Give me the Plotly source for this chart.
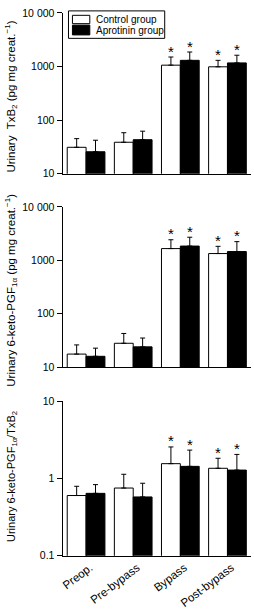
import plotly.graph_objects as go
import math

categories = ["Preop.", "Pre-bypass", "Bypass", "Post-bypass"]
series_names = ["Control group", "Aprotinin group"]

# Panel 1: Urinary TxB2
txb2_control = [31, 38.5, 1057, 985]
txb2_control_err = [45, 58, 1500, 1300]
txb2_aprot = [25.6, 43, 1300, 1165]
txb2_aprot_err = [42, 62, 1860, 1620]

# Panel 2: Urinary 6-keto-PGF1a
pgf_control = [17.5, 27.9, 1660, 1340]
pgf_control_err = [26, 42.6, 2430, 1830]
pgf_aprot = [15.9, 23.9, 1850, 1460]
pgf_aprot_err = [22.6, 35, 2710, 2240]

# Panel 3: ratio
ratio_control = [0.60, 0.75, 1.55, 1.35]
ratio_control_err = [0.79, 1.13, 2.55, 1.82]
ratio_aprot = [0.64, 0.575, 1.43, 1.28]
ratio_aprot_err = [0.83, 0.865, 2.32, 2.04]

significant = [False, False, True, True]

FONT = "Liberation Sans, Arial, sans-serif"
W, H = 254, 610

panels = [
    (txb2_control, txb2_control_err, txb2_aprot, txb2_aprot_err),
    (pgf_control, pgf_control_err, pgf_aprot, pgf_aprot_err),
    (ratio_control, ratio_control_err, ratio_aprot, ratio_aprot_err),
]

fig = go.Figure()
for i, (c, ce, a, ae) in enumerate(panels):
    n = "" if i == 0 else str(i + 1)
    fig.add_trace(go.Bar(
        x=categories, y=c, name=series_names[0], showlegend=False,
        marker=dict(color="white", line=dict(color="black", width=1)),
        error_y=dict(type="data", symmetric=False,
                     array=[e - v for e, v in zip(ce, c)],
                     arrayminus=[0] * len(c), color="black", thickness=1, width=2.5),
        xaxis="x" + n, yaxis="y" + n, offsetgroup="c",
    ))
    fig.add_trace(go.Bar(
        x=categories, y=a, name=series_names[1], showlegend=False,
        marker=dict(color="black", line=dict(color="black", width=1)),
        error_y=dict(type="data", symmetric=False,
                     array=[e - v for e, v in zip(ae, a)],
                     arrayminus=[0] * len(a), color="black", thickness=1, width=2.5),
        xaxis="x" + n, yaxis="y" + n, offsetgroup="a",
    ))
    for j, s in enumerate(significant):
        if s:
            for top, shift in ((ce[j], -9.5), (ae[j], 9.5)):
                fig.add_annotation(
                    x=categories[j], y=math.log10(top), xref="x" + n, yref="y" + n,
                    text="*", showarrow=False, xshift=shift, yshift=6,
                    yanchor="middle", font=dict(size=15, family=FONT, color="black"),
                )

xdom = [61 / W, 251 / W]
ydoms = [
    [1 - 171 / H, 1 - 7 / H],
    [1 - 368.3 / H, 1 - 205 / H],
    [1 - 560.7 / H, 1 - 403 / H],
]

axis_common = dict(showline=True, linecolor="black", linewidth=1, showgrid=False,
                   zeroline=False, mirror=False)

layout = dict(
    width=W, height=H, margin=dict(l=0, r=0, t=0, b=0),
    paper_bgcolor="white", plot_bgcolor="white",
    barmode="group", bargap=0.2, bargroupgap=0,
    font=dict(family=FONT, size=10, color="black"),
    showlegend=False,
)

ytick_sets = [
    ([10, 100, 1000, 10000], ["10", "100", "1000", "10 000"], [1, 4]),
    ([10, 100, 1000, 10000], ["10", "100", "1000", "10 000"], [1, 4]),
    ([0.1, 1, 10], ["0.1", "1", "10"], [-1, 1]),
]

for i in range(3):
    n = "" if i == 0 else str(i + 1)
    layout["xaxis" + n] = dict(
        domain=xdom, anchor="y" + n, showticklabels=(i == 2), ticks="",
        tickangle=-37, tickfont=dict(size=11.5, family=FONT),
        ticklabelshift=4,
        **axis_common,
    )
    tv, tt, rng = ytick_sets[i]
    layout["yaxis" + n] = dict(
        domain=ydoms[i], anchor="x" + n, type="log", range=rng,
        tickvals=tv, ticktext=tt, ticks="outside", ticklen=5, tickcolor="black",
        tickfont=dict(size=10.5, family=FONT),
        **axis_common,
    )

fig.update_layout(**layout)

# custom legend box (paper pixel coordinates)
def px(x):
    return x / W

def py(y):
    return 1 - y / H

shapes = [
    dict(type="rect", xref="paper", yref="paper", x0=px(67), x1=px(164), y0=py(33), y1=py(5),
         line=dict(color="black", width=1), fillcolor="white", layer="above"),
    dict(type="rect", xref="paper", yref="paper", x0=px(71), x1=px(88.5), y0=py(18), y1=py(9.5),
         line=dict(color="black", width=1), fillcolor="white", layer="above"),
    dict(type="rect", xref="paper", yref="paper", x0=px(71), x1=px(88.5), y0=py(29.5), y1=py(19.5),
         line=dict(color="black", width=1), fillcolor="black", layer="above"),
]
fig.update_layout(shapes=shapes)
for name, yc in zip(series_names, (13.8, 24.5)):
    fig.add_annotation(text=name, x=px(92.5), y=py(yc), xref="paper", yref="paper",
                       xanchor="left", yanchor="middle", showarrow=False,
                       font=dict(size=10, family=FONT, color="black"))

titles = [
    ("Urinary  TxB<sub>2</sub> (pg mg creat.<sup>−1</sup>)", 1 - 92 / H, 11.5),
    ("Urinary 6-keto-PGF<sub>1α</sub> (pg mg creat.<sup>−1</sup>)", 1 - 290 / H, 11.5),
    ("Urinary 6-keto-PGF<sub>1α</sub>/TxB<sub>2</sub>", 1 - 480 / H, 11),
]
for t, yc, fs in titles:
    fig.add_annotation(text=t, x=9.5 / W, y=yc, xref="paper", yref="paper",
                       textangle=-90, showarrow=False, xanchor="center", yanchor="middle",
                       font=dict(size=fs, family=FONT, color="black"))

fig.write_html("out.html")
